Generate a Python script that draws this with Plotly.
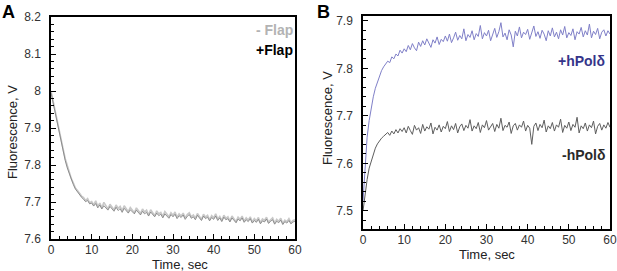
import numpy as np
import plotly.graph_objects as go

# Panel A: fluorescence (V) vs time (sec), sampled every 0.5 s from 0 to 60
a_minus_flap = [8.000, 7.972, 7.948, 7.921, 7.893, 7.868, 7.842, 7.817, 7.798, 7.779,
 7.763, 7.751, 7.738, 7.731, 7.722, 7.716, 7.712, 7.704, 7.709, 7.698,
 7.701, 7.692, 7.703, 7.688, 7.697, 7.684, 7.699, 7.690, 7.681, 7.694,
 7.686, 7.679, 7.692, 7.683, 7.688, 7.676, 7.690, 7.681, 7.674, 7.685,
 7.678, 7.671, 7.684, 7.675, 7.669, 7.681, 7.673, 7.678, 7.665, 7.679,
 7.670, 7.663, 7.676, 7.668, 7.672, 7.661, 7.674, 7.667, 7.660, 7.671,
 7.664, 7.673, 7.659, 7.668, 7.662, 7.670, 7.657, 7.666, 7.671, 7.660,
 7.665, 7.656, 7.669, 7.661, 7.653, 7.667, 7.659, 7.664, 7.652, 7.663,
 7.657, 7.668, 7.654, 7.661, 7.650, 7.664, 7.656, 7.660, 7.649, 7.662,
 7.655, 7.647, 7.659, 7.653, 7.662, 7.648, 7.657, 7.651, 7.660, 7.646,
 7.655, 7.649, 7.658, 7.644, 7.654, 7.650, 7.659, 7.645, 7.652, 7.657,
 7.643, 7.653, 7.648, 7.656, 7.642, 7.651, 7.647, 7.655, 7.644, 7.650,
 7.652]

a_plus_flap = [7.995, 7.968, 7.943, 7.917, 7.889, 7.862, 7.838, 7.812, 7.792, 7.776,
 7.759, 7.747, 7.735, 7.727, 7.719, 7.713, 7.707, 7.701, 7.704, 7.695,
 7.697, 7.689, 7.696, 7.684, 7.692, 7.681, 7.690, 7.685, 7.678, 7.688,
 7.680, 7.675, 7.686, 7.677, 7.682, 7.672, 7.683, 7.676, 7.670, 7.679,
 7.673, 7.668, 7.678, 7.670, 7.665, 7.675, 7.668, 7.672, 7.662, 7.673,
 7.666, 7.660, 7.670, 7.663, 7.667, 7.657, 7.668, 7.662, 7.656, 7.666,
 7.660, 7.667, 7.655, 7.663, 7.658, 7.665, 7.653, 7.661, 7.666, 7.656,
 7.660, 7.652, 7.664, 7.657, 7.650, 7.662, 7.655, 7.659, 7.649, 7.658,
 7.653, 7.662, 7.650, 7.657, 7.647, 7.659, 7.652, 7.655, 7.646, 7.657,
 7.651, 7.644, 7.654, 7.649, 7.657, 7.645, 7.652, 7.647, 7.655, 7.643,
 7.650, 7.645, 7.653, 7.641, 7.649, 7.646, 7.654, 7.642, 7.648, 7.652,
 7.640, 7.648, 7.644, 7.651, 7.639, 7.647, 7.643, 7.650, 7.641, 7.646,
 7.648]

# Panel B
b_plus_pol = [7.520, 7.600, 7.655, 7.690, 7.718, 7.740, 7.758, 7.772, 7.786, 7.795,
 7.803, 7.808, 7.815, 7.812, 7.824, 7.820, 7.830, 7.826, 7.838, 7.832,
 7.841, 7.835, 7.848, 7.839, 7.852, 7.843, 7.837, 7.855, 7.846, 7.858,
 7.849, 7.862, 7.851, 7.844, 7.860, 7.853, 7.866, 7.850, 7.861, 7.856,
 7.868, 7.857, 7.872, 7.854, 7.864, 7.876, 7.859, 7.869, 7.862, 7.883,
 7.858, 7.871, 7.865, 7.879, 7.860, 7.873, 7.867, 7.890, 7.862, 7.875,
 7.868, 7.880, 7.858, 7.874, 7.884, 7.865, 7.877, 7.896, 7.866, 7.874,
 7.860, 7.881, 7.870, 7.845, 7.878, 7.868, 7.887, 7.864, 7.876, 7.871,
 7.882, 7.861, 7.874, 7.889, 7.867, 7.877, 7.863, 7.880, 7.872, 7.858,
 7.879, 7.868, 7.885, 7.866, 7.876, 7.862, 7.881, 7.870, 7.888, 7.864,
 7.875, 7.869, 7.883, 7.860, 7.877, 7.872, 7.886, 7.866, 7.879, 7.870,
 7.893, 7.864, 7.878, 7.871, 7.884, 7.862, 7.876, 7.881, 7.868, 7.879,
 7.872]

b_minus_pol = [7.500, 7.540, 7.566, 7.590, 7.606, 7.620, 7.632, 7.641, 7.648, 7.653,
 7.657, 7.661, 7.665, 7.659, 7.668, 7.662, 7.671, 7.664, 7.673, 7.667,
 7.675, 7.664, 7.678, 7.669, 7.661, 7.680, 7.670, 7.675, 7.663, 7.682,
 7.668, 7.677, 7.672, 7.685, 7.662, 7.676, 7.670, 7.681, 7.666, 7.678,
 7.673, 7.688, 7.667, 7.679, 7.671, 7.684, 7.664, 7.677, 7.683, 7.669,
 7.680, 7.674, 7.692, 7.668, 7.679, 7.673, 7.686, 7.665, 7.681, 7.675,
 7.690, 7.670, 7.678, 7.684, 7.667, 7.682, 7.674, 7.695, 7.669, 7.680,
 7.676, 7.687, 7.663, 7.679, 7.684, 7.670, 7.681, 7.676, 7.689, 7.668,
 7.680, 7.674, 7.640, 7.678, 7.685, 7.669, 7.682, 7.675, 7.691, 7.666,
 7.679, 7.673, 7.686, 7.668, 7.681, 7.676, 7.693, 7.665, 7.680, 7.674,
 7.687, 7.669, 7.682, 7.676, 7.697, 7.664, 7.679, 7.673, 7.685, 7.668,
 7.681, 7.675, 7.689, 7.662, 7.678, 7.684, 7.670, 7.681, 7.674, 7.686,
 7.676]

t_start, t_end = 0, 60
def times(vals):
    return np.linspace(t_start, t_end, len(vals))

FONT = "Liberation Sans, Arial, sans-serif"
W, H = 617, 271

fig = go.Figure()
fig.add_trace(go.Scatter(x=times(a_minus_flap), y=a_minus_flap, mode="lines",
                         line=dict(color="#c8c8c8", width=1.6), xaxis="x", yaxis="y", showlegend=False))
fig.add_trace(go.Scatter(x=times(a_plus_flap), y=a_plus_flap, mode="lines",
                         line=dict(color="#7a7a7a", width=0.8), xaxis="x", yaxis="y", showlegend=False))
fig.add_trace(go.Scatter(x=times(b_plus_pol), y=b_plus_pol, mode="lines",
                         line=dict(color="#8080c8", width=1.0), xaxis="x2", yaxis="y2", showlegend=False))
fig.add_trace(go.Scatter(x=times(b_minus_pol), y=b_minus_pol, mode="lines",
                         line=dict(color="#5e5e5e", width=1.0), xaxis="x2", yaxis="y2", showlegend=False))

axis_common = dict(showline=True, mirror=True, linecolor="black", linewidth=1.5,
                   ticks="inside", ticklen=5, tickwidth=1.2, tickcolor="black",
                   showgrid=False, zeroline=False, automargin=False,
                   tickfont=dict(family=FONT, size=12, color="#333"))
minor_x = dict(dtick=2, ticks="inside", ticklen=3, tickcolor="black")
minor_y = dict(dtick=0.02, ticks="inside", ticklen=3, tickcolor="black")

def px_x(p):
    return p / W
def px_y(p):
    return 1 - p / H

title_font = dict(family=FONT, size=13, color="#222")

def ann(text, x, y, xanchor="center", yanchor="middle", angle=0, font=title_font):
    return dict(text=text, x=px_x(x), y=px_y(y), xref="paper", yref="paper",
                xanchor=xanchor, yanchor=yanchor, textangle=angle,
                showarrow=False, font=font, borderpad=0)

fig.update_layout(
    width=W, height=H, autosize=False,
    margin=dict(l=0, r=0, t=0, b=0),
    paper_bgcolor="white", plot_bgcolor="white",
    xaxis=dict(domain=[px_x(51), px_x(295)], range=[0, 60], dtick=10, anchor="y",
               minor=minor_x, ticklabelstandoff=-1, **axis_common),
    yaxis=dict(domain=[px_y(239), px_y(17)], range=[7.6, 8.2], anchor="x",
               tickvals=[7.6, 7.7, 7.8, 7.9, 8.0, 8.1, 8.2],
               ticktext=["7.6", "7.7", "7.8", "7.9", "8", "8.1", "8.2"],
               ticklabelstandoff=6,
               minor=minor_y, **axis_common),
    xaxis2=dict(domain=[px_x(363), px_x(610)], range=[0, 60], dtick=10, anchor="y2",
                minor=minor_x, ticklabelstandoff=-1, **axis_common),
    yaxis2=dict(domain=[px_y(229), px_y(16)], range=[7.462, 7.91], anchor="x2",
                tickvals=[7.5, 7.6, 7.7, 7.8, 7.9],
                ticklabelstandoff=6,
                minor=minor_y, **axis_common),
    annotations=[
        ann("Time, sec", 180, 264),
        ann("Fluorescence, V", 12, 132, angle=-90),
        ann("Time, sec", 487, 254),
        ann("Fluorescence, V", 327, 118, angle=-90),
        ann("<b>A</b>", 1, 1, xanchor="left", yanchor="top",
            font=dict(family=FONT, size=18, color="black")),
        ann("<b>B</b>", 316, 1, xanchor="left", yanchor="top",
            font=dict(family=FONT, size=18, color="black")),
        ann("<b>- Flap</b>", 294, 30, xanchor="right",
            font=dict(family=FONT, size=14, color="#b3b3b3")),
        ann("<b>+Flap</b>", 294, 50, xanchor="right",
            font=dict(family=FONT, size=14, color="black")),
        ann("<b>+hPolδ</b>", 606, 61, xanchor="right",
            font=dict(family=FONT, size=14, color="#35358a")),
        ann("<b>-hPolδ</b>", 606, 155, xanchor="right",
            font=dict(family=FONT, size=14, color="#2a2a2a")),
    ],
)

fig.write_html("out.html", config={"displayModeBar": False},
               post_script="document.body.style.margin='0px';document.body.style.padding='0px';")
